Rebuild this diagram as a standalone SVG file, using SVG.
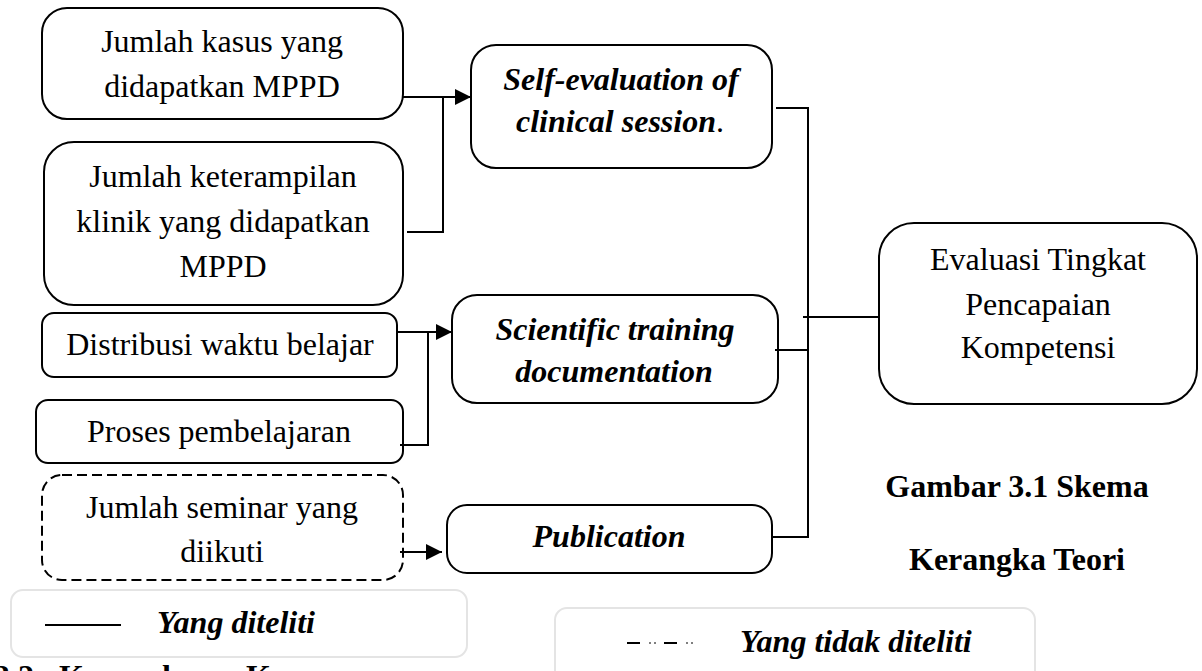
<svg xmlns="http://www.w3.org/2000/svg" width="1202" height="671" viewBox="0 0 1202 671">
<defs>
<style>
.box{fill:#fff;stroke:#000;stroke-width:2}
.dash{fill:#fff;stroke:#000;stroke-width:2;stroke-dasharray:10 5}
.leg{fill:#fff;stroke:#e4e4e4;stroke-width:2}
.t{font-family:"Liberation Serif","Times New Roman",serif;font-size:32px;fill:#000;text-anchor:middle}
.bi{font-weight:bold;font-style:italic}
.b{font-weight:bold}
.c{fill:none;stroke:#000;stroke-width:2}
</style>
<marker id="ah" markerWidth="16" markerHeight="16" viewBox="0 0 16 16" refX="16" refY="8" orient="auto" markerUnits="userSpaceOnUse">
<path d="M0,0 L16,8 L0,16 Z" fill="#000"/>
</marker>
</defs>
<rect width="1202" height="671" fill="#fff"/>

<g id="n-kasus">
<rect class="box" x="42" y="8" width="361" height="111" rx="25"/>
<text class="t" x="222" y="52">Jumlah kasus yang</text>
<text class="t" x="222" y="97">didapatkan MPPD</text>
</g>
<g id="n-keterampilan">
<rect class="box" x="44" y="142" width="359" height="163" rx="30"/>
<text class="t" x="223" y="187">Jumlah keterampilan</text>
<text class="t" x="223" y="232">klinik yang didapatkan</text>
<text class="t" x="223" y="277">MPPD</text>
</g>
<g id="n-distribusi">
<rect class="box" x="42" y="313" width="355" height="64" rx="12"/>
<text class="t" x="220" y="355">Distribusi waktu belajar</text>
</g>
<g id="n-proses">
<rect class="box" x="36" y="400" width="367" height="63" rx="12"/>
<text class="t" x="219" y="442">Proses pembelajaran</text>
</g>
<g id="n-seminar">
<rect class="dash" x="42" y="475" width="361" height="105" rx="20"/>
<text class="t" x="222" y="518">Jumlah seminar yang</text>
<text class="t" x="222" y="562">diikuti</text>
</g>
<g id="n-self">
<rect class="box" x="471" y="45" width="301" height="123" rx="25"/>
<text class="t bi" x="621" y="90">Self-evaluation of</text>
<text class="t" x="620" y="132"><tspan class="bi">clinical session</tspan>.</text>
</g>
<g id="n-scientific">
<rect class="box" x="452" y="295" width="326" height="108" rx="25"/>
<text class="t bi" x="615" y="340">Scientific training</text>
<text class="t bi" x="614" y="382">documentation</text>
</g>
<g id="n-publication">
<rect class="box" x="447" y="505" width="325" height="68" rx="20"/>
<text class="t bi" x="609" y="547">Publication</text>
</g>
<g id="n-evaluasi">
<rect class="box" x="879" y="223" width="318" height="181" rx="35"/>
<text class="t" x="1038" y="270">Evaluasi Tingkat</text>
<text class="t" x="1038" y="315">Pencapaian</text>
<text class="t" x="1038" y="358">Kompetensi</text>
</g>

<g id="connectors">
<line class="c" x1="403" y1="97" x2="471" y2="97" marker-end="url(#ah)"/>
<polyline class="c" points="407,232 443,232 443,97"/>
<line class="c" x1="397" y1="332" x2="452" y2="332" marker-end="url(#ah)"/>
<polyline class="c" points="400,445 428,445 428,332"/>
<line class="c" x1="400" y1="552" x2="442" y2="552" marker-end="url(#ah)"/>
<polyline class="c" points="776,108 808,108 808,537 772,537"/>
<line class="c" x1="775" y1="350" x2="808" y2="350"/>
<line class="c" x1="803" y1="317" x2="879" y2="317"/>
</g>

<g id="caption">
<text class="t b" x="1017" y="497">Gambar 3.1 Skema</text>
<text class="t b" x="1017" y="570">Kerangka Teori</text>
</g>

<g id="legend-diteliti">
<rect class="leg" x="11" y="590" width="456" height="67" rx="12"/>
<line x1="45" y1="625" x2="121" y2="625" stroke="#000" stroke-width="2"/>
<text class="t bi" x="157" y="633" style="text-anchor:start">Yang diteliti</text>
</g>
<g id="legend-tidak">
<rect class="leg" x="555" y="608" width="480" height="80" rx="12"/>
<line x1="627" y1="643" x2="693" y2="643" stroke="#000" stroke-width="2" stroke-dasharray="13 9.5 1 4 1 8.5"/>
<text class="t bi" x="740" y="652" style="text-anchor:start">Yang tidak diteliti</text>
</g>

<g id="footer">
<text class="t b" y="687" style="text-anchor:start"><tspan x="-6">3.2</tspan><tspan x="59">Kerangka</tspan><tspan x="246">Konsep</tspan></text>
</g>
</svg>
